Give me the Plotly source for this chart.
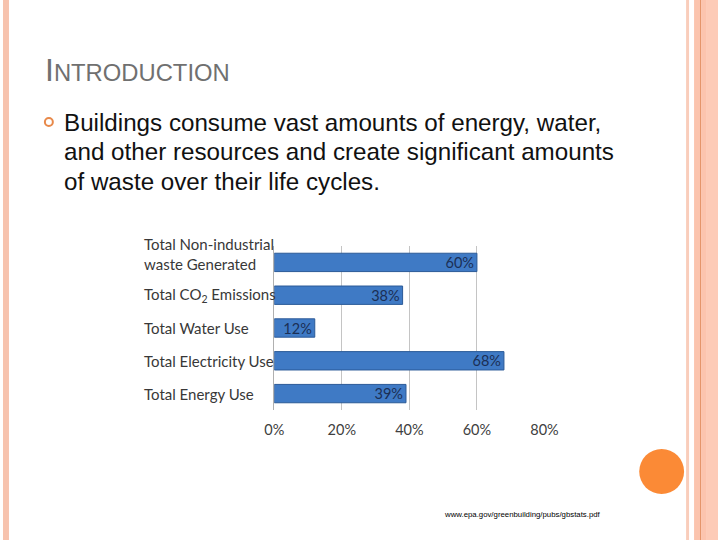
import plotly.graph_objects as go

# the photographed page appears scaled ~0.97 horizontally with ~10px offset;
# compensate with a slightly wider figure shifted left
W, H = 742, 540
REF_W = 720

categories = [
    "Total Non-industrial<br>waste Generated",
    "Total CO<sub>2</sub> Emissions",
    "Total Water Use",
    "Total Electricity Use",
    "Total Energy Use",
]
values = [0.60, 0.38, 0.12, 0.68, 0.39]
x_ticks = [0, 0.2, 0.4, 0.6, 0.8]
x_tick_labels = ["0%", "20%", "40%", "60%", "80%"]

title_big = "I"
title_rest = "NTRODUCTION"
body_lines = [
    "Buildings consume vast amounts of energy, water,",
    "and other resources and create significant amounts",
    "of waste over their life cycles.",
]
source = "www.epa.gov/greenbuilding/pubs/gbstats.pdf"

def px(x):
    return x / REF_W

def py(y):
    return 1 - y / H

CHART_FONT = "Lato, Open Sans, sans-serif"
SLIDE_FONT = "Liberation Sans, Arial, sans-serif"

fig = go.Figure()
fig.add_trace(go.Bar(
    y=categories, x=values, orientation="h",
    marker=dict(color="#3F7AC5", line=dict(color="#2B5A97", width=1)),
    width=0.56,
    texttemplate="%{x:.0%}", textposition="inside", insidetextanchor="end",
    constraintext="none",
    textfont=dict(family=CHART_FONT, size=14.5, color="#1B2F55"),
    cliponaxis=False,
))

fig.update_layout(
    width=W, height=H, autosize=False,
    margin=dict(l=0, r=0, t=0, b=0),
    paper_bgcolor="white", plot_bgcolor="white",
    showlegend=False,
    xaxis=dict(
        domain=[px(275), px(546)], range=[0, 0.8],
        tickvals=x_ticks, ticktext=x_tick_labels,
        showgrid=True, gridcolor="#C4C4C4", gridwidth=1,
        zeroline=False, showline=False, ticks="",
        ticklabelstandoff=9,
        tickfont=dict(family=CHART_FONT, size=14.5, color="#404040"),
    ),
    yaxis=dict(
        domain=[py(410), py(246)],
        categoryorder="array", categoryarray=categories,
        autorange="reversed",
        showticklabels=False, showgrid=False, zeroline=False,
        showline=True, linecolor="#B0B0B0", linewidth=1, ticks="",
    ),
)

for i, c in enumerate(categories):
    fig.add_annotation(
        x=px(142), xref="paper", xanchor="left",
        y=c, yref="y", yanchor="middle",
        text=c, showarrow=False, align="left",
        yshift=8 if i == 0 else 0,
        font=dict(family=CHART_FONT, size=15, color="#383838"),
    )

fig.add_annotation(
    x=px(43), y=py(70), xref="paper", yref="paper", xanchor="left", yanchor="middle",
    text=f"<span style='font-size:32px'>{title_big}</span>{title_rest}",
    showarrow=False, font=dict(family=SLIDE_FONT, size=23.8, color="#707070"),
)

for i, line in enumerate(body_lines):
    fig.add_annotation(
        x=px(62), y=py(123 + 29 * i), xref="paper", yref="paper",
        xanchor="left", yanchor="middle",
        text=line, showarrow=False,
        font=dict(family=SLIDE_FONT, size=24.2, color="#111111"),
    )

fig.add_annotation(
    x=px(443), y=py(514), xref="paper", yref="paper", xanchor="left", yanchor="middle",
    text=source, showarrow=False,
    font=dict(family=SLIDE_FONT, size=7.8, color="#000000"),
)

shapes = [
    dict(type="circle", xref="paper", yref="paper",
         x0=px(45), x1=px(53), y0=py(126), y1=py(118),
         line=dict(color="#E8894A", width=2), fillcolor="white"),
    dict(type="circle", xref="paper", yref="paper",
         x0=px(641), x1=px(686), y0=py(494), y1=py(449),
         line=dict(width=0), fillcolor="#FB8A36"),
    dict(type="rect", xref="paper", yref="paper", x0=px(3), x1=px(9), y0=0, y1=1,
         line=dict(width=0), fillcolor="#F7C3AE"),
    dict(type="rect", xref="paper", yref="paper", x0=px(688), x1=px(691), y0=0, y1=1,
         line=dict(width=0), fillcolor="#F9CDBB"),
    dict(type="rect", xref="paper", yref="paper", x0=px(696), x1=px(702), y0=0, y1=1,
         line=dict(width=0), fillcolor="#FBC4AE"),
    dict(type="rect", xref="paper", yref="paper", x0=px(702), x1=px(703), y0=0, y1=1,
         line=dict(width=0), fillcolor="#E49064"),
    dict(type="rect", xref="paper", yref="paper", x0=px(703), x1=px(708), y0=0, y1=1,
         line=dict(width=0), fillcolor="#FCC4AE"),
    dict(type="rect", xref="paper", yref="paper", x0=px(708), x1=px(720), y0=0, y1=1,
         line=dict(width=0), fillcolor="#FDCBB7"),
]
fig.update_layout(shapes=shapes)

fig.write_html(
    "out.html",
    config={"displayModeBar": False},
    post_script=(
        "document.body.style.margin='0';document.body.style.overflow='hidden';"
        "var d=document.getElementById('{plot_id}');"
        "d.style.position='fixed';d.style.left='-10px';d.style.top='0px';"
    ),
)
